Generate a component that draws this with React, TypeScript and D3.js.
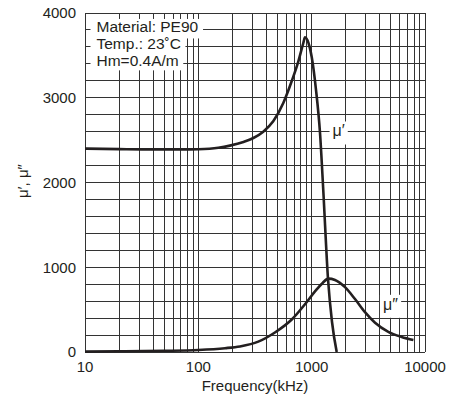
import React, { useEffect, useRef } from "react";
import * as d3 from "d3";

// ---- data ----
const xTickValues = [10, 100, 1000, 10000];
const xTickLabels = ["10", "100", "1000", "10000"];
const yTickValues = [0, 1000, 2000, 3000, 4000];
const yTickLabels = ["0", "1000", "2000", "3000", "4000"];

const muPrimeFreq = [10, 20, 40, 70, 100, 150, 190, 250, 306, 374, 458, 562, 666, 763, 844, 873, 938, 1001, 1092, 1185, 1267, 1394, 1512, 1663];
const muPrimeVal = [2400, 2394, 2390, 2390, 2393, 2410, 2435, 2478, 2525, 2600, 2722, 2938, 3194, 3430, 3646, 3713, 3645, 3481, 3094, 2584, 1900, 861, 354, 0];

const muDPFreq = [10, 20, 50, 100, 172, 233, 338, 474, 667, 873, 1070, 1250, 1403, 1606, 1968, 2412, 2955, 3625, 4744, 6220, 7900];
const muDPVal = [5, 8, 14, 24, 45, 66, 122, 230, 383, 564, 715, 815, 866, 850, 765, 625, 470, 345, 238, 178, 142];

const infoLines = ["Material: PE90", "Temp.: 23˚C", "Hm=0.4A/m"];
const infoValues = [3800, 3600, 3400];

const seriesLabels = ["μ′", "μ″"];
const seriesLabelFreq = [1730, 4950];
const seriesLabelVal = [2590, 545];

export default function App() {
  const ref = useRef<SVGSVGElement | null>(null);

  useEffect(() => {
    const svg = d3.select(ref.current);
    svg.selectAll("*").remove();
    const W = 465, H = 401;
    const m = { left: 85, right: 40, top: 13, bottom: 49 };
    const x = d3.scaleLog().domain([10, 10000]).range([m.left, W - m.right]);
    const y = d3.scaleLinear().domain([0, 4000]).range([H - m.bottom, m.top]);
    const font = "'Liberation Sans', Arial, Helvetica, sans-serif";
    const ink = "#231f20";
    const gridColor = "#333333";

    // grid
    const vLines: number[] = [];
    for (let d = 10; d < 10000; d *= 10) for (let k = 1; k < 10; k++) vLines.push(d * k);
    vLines.push(10000);
    const hLines = d3.range(0, 4001, 200);
    const g = svg.append("g").attr("shape-rendering", "crispEdges");
    g.selectAll("line.v").data(vLines).join("line")
      .attr("x1", (d) => x(d)).attr("x2", (d) => x(d))
      .attr("y1", y(0)).attr("y2", y(4000))
      .attr("stroke", gridColor).attr("stroke-width", 1);
    g.selectAll("line.h").data(hLines).join("line")
      .attr("y1", (d) => y(d)).attr("y2", (d) => y(d))
      .attr("x1", x(10)).attr("x2", x(10000))
      .attr("stroke", gridColor).attr("stroke-width", 1);

    // info box lines
    const info = svg.append("g");
    infoLines.forEach((t, i) => {
      const base = y(infoValues[i]) + 2.5;
      const rect = info.append("rect").attr("fill", "white");
      const txt = info.append("text").attr("x", 96.5).attr("y", base)
        .attr("font-family", font).attr("font-size", 15.5).attr("fill", ink).text(t);
      const bb = (txt.node() as SVGTextElement).getBBox();
      rect.attr("x", 90.5).attr("y", base - 13.5).attr("width", bb.x + bb.width + 4.5 - 90.5)
        .attr("height", i === 2 ? 17.5 : 19.5);
    });

    // curves
    const line = d3.line<[number, number]>()
      .x((d) => x(d[0])).y((d) => y(d[1])).curve(d3.curveMonotoneX);
    const mp: [number, number][] = muPrimeFreq.map((f, i) => [f, muPrimeVal[i]]);
    const mdp: [number, number][] = muDPFreq.map((f, i) => [f, muDPVal[i]]);
    svg.append("path").attr("d", line(mdp)).attr("fill", "none").attr("stroke", ink).attr("stroke-width", 2.6);
    svg.append("path").attr("d", line(mp)).attr("fill", "none").attr("stroke", ink).attr("stroke-width", 2.6);

    // series labels
    seriesLabels.forEach((t, i) => {
      const cx = x(seriesLabelFreq[i]);
      const cy = y(seriesLabelVal[i]);
      const rect = svg.append("rect").attr("fill", "white");
      const txt = svg.append("text").attr("x", cx).attr("y", cy + 4).attr("text-anchor", "middle")
        .attr("font-family", font).attr("font-size", 16).attr("fill", ink).text(t);
      const bb = (txt.node() as SVGTextElement).getBBox();
      rect.attr("x", bb.x - 3).attr("y", cy - 11).attr("width", bb.width + 6).attr("height", 23);
      txt.raise();
    });

    // ticks
    svg.append("g").selectAll("text").data(yTickValues).join("text")
      .attr("x", 76).attr("y", (d) => y(d)).attr("dy", "0.36em").attr("text-anchor", "end")
      .attr("font-family", font).attr("font-size", 15).attr("fill", ink)
      .text((d, i) => yTickLabels[i]);
    svg.append("g").selectAll("text").data(xTickValues).join("text")
      .attr("x", (d) => x(d)).attr("y", 372).attr("text-anchor", "middle")
      .attr("font-family", font).attr("font-size", 15).attr("fill", ink)
      .text((d, i) => xTickLabels[i]);

    // axis titles
    svg.append("text").attr("x", x(Math.sqrt(10 * 10000))).attr("y", 391)
      .attr("text-anchor", "middle").attr("font-family", font).attr("font-size", 15).attr("fill", ink)
      .text("Frequency(kHz)");
    svg.append("text").attr("transform", "translate(28,181) rotate(-90)")
      .attr("text-anchor", "middle").attr("font-family", font).attr("font-size", 15).attr("fill", ink)
      .text("μ′, μ″");
  }, []);

  return (
    <svg ref={ref} width={465} height={401}
      style={{ position: "absolute", left: 0, top: 0, background: "white" }} />
  );
}
